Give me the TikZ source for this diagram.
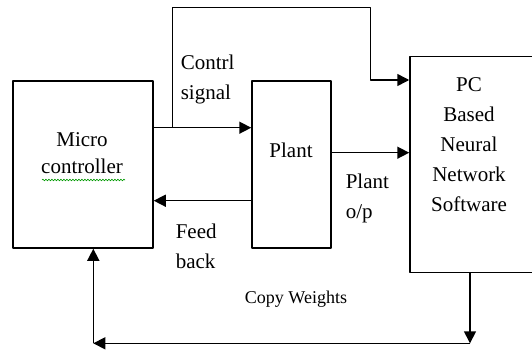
\documentclass[tikz,border=0pt]{standalone}
\usepackage{fontspec}
\setmainfont{Liberation Serif}
\usetikzlibrary{arrows.meta,decorations.pathmorphing}
\begin{document}
\begin{tikzpicture}[x=1pt, y=-1pt, line join=round, line width=1.5pt, >={Triangle[length=12pt,width=12pt]},
	box/.style={draw, inner sep=0pt},
	txt/.style={inner sep=0pt, font=\fontsize{21}{30}\selectfont}]
	\useasboundingbox (0,0) rectangle (532,353);
	% blocks
	\node[box, minimum width=140pt, minimum height=167pt] (micro) at (83,164.5) {};
	\node[box, minimum width=79pt, minimum height=167pt] (plant) at (291.5,164.5) {};
	\node[box, minimum width=124pt, minimum height=216pt] (pc) at (472,164.7) {};
	% texts
	\node[txt, align=center, anchor=north] (microtxt) at (82,131.7) {Micro\\[-3pt]controller};
	\draw[green!60!black, line width=0.6pt, decorate, decoration={snake, segment length=3pt, amplitude=0.8pt}] (42,180) -- (125,180);
	\node[txt, anchor=base] (planttxt) at (291,157) {Plant};
	\node[txt, align=center, anchor=north] (pctxt) at (469,77) {PC\\Based\\Neural\\Network\\Software};
	\node[txt, align=left, anchor=north west] (ctrl) at (180,53.7) {Contrl\\signal};
	\node[txt, align=left, anchor=north west] (out) at (345,172.7) {Plant\\o/p};
	\node[txt, align=left, anchor=north west] (fb) at (175,222.7) {Feed\\back};
	\node[txt, font=\fontsize{18}{22}\selectfont, anchor=base] (copy) at (296,303) {Copy Weights};
	% connectors
	\coordinate (cs) at (172.7,127.7);
	\coordinate (up) at (172.7,7.3);
	\coordinate (dn) at (370.7,80);
	\coordinate (br) at (470,343.3);
	\coordinate (bl) at (93.3,343.3);
	\draw[->] (micro.east |- cs) -- (plant.west |- cs);
	\draw[->] (cs) -- (up) -| (dn) -- (pc.west |- dn);
	\draw[->] ([yshift=11.8pt]plant.east) -- ([yshift=11.8pt]plant.east -| pc.west);
	\draw[->] ([yshift=-36.2pt]plant.west) -- ([yshift=-36.2pt]plant.west -| micro.east);
	\draw[->] (pc.south -| br) -- (br);
	\draw[->] (br) -- (bl);
	\draw[->] (bl) -- (micro.south -| bl);
\end{tikzpicture}
\end{document}
